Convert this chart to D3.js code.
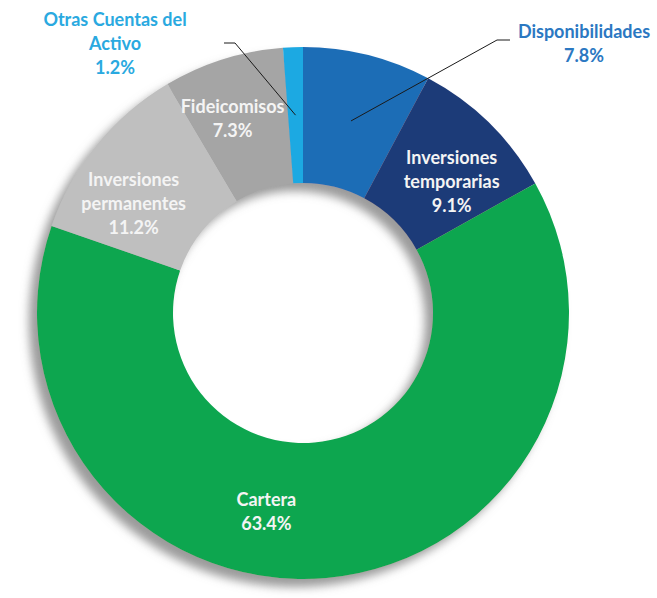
<!DOCTYPE html>
<html>
<head>
<meta charset="utf-8">
<script src="https://cdn.jsdelivr.net/npm/d3@7"></script>
<style>
  body { margin: 0; background: #fff; }
  svg { display: block; }
  text { font-family: Lato, "Open Sans", sans-serif; font-weight: bold; font-size: 18px; }
</style>
</head>
<body>
<svg id="chart" width="657" height="598"></svg>
<script>
// data
var categories = ["Disponibilidades", "Inversiones temporarias", "Cartera", "Inversiones permanentes", "Fideicomisos", "Otras Cuentas del Activo"];
var values = [7.8, 9.1, 63.4, 11.2, 7.3, 1.2];
var labelLines = [["Disponibilidades"], ["Inversiones", "temporarias"], ["Cartera"], ["Inversiones", "permanentes"], ["Fideicomisos"], ["Otras Cuentas del", "Activo"]];

// styling / layout
var colors = ["#1f6db6", "#1f3a78", "#0aa64f", "#bfbfbf", "#a5a5a5", "#1ca9e2"];
var labelColors = ["#2b78c2", "#f4f4f4", "#f4f4f4", "#f4f4f4", "#f4f4f4", "#2aa9e0"];
var outside = [true, false, false, false, false, true];
// nudges from the label-arc centroid (px)
var nudge = [[0, 0], [10, 10], [-54, 2], [-16, 16], [-11, -5], [0, 0]];
var outsidePos = [[584, 38], null, null, null, null, [115, 26]];

var cx = 303, cy = 313, R = 266, r0 = 130;
var svg = d3.select("#chart");

var defs = svg.append("defs");
var f = defs.append("filter").attr("id", "shadow")
  .attr("x", "-20%").attr("y", "-20%").attr("width", "140%").attr("height", "140%");
f.append("feDropShadow")
  .attr("dx", -8).attr("dy", 8).attr("stdDeviation", 5)
  .attr("flood-color", "#7a7a7a").attr("flood-opacity", 0.75);

var pie = d3.pie().sort(null).value(function(d) { return d; });
var arcs = pie(values);
var arc = d3.arc().innerRadius(r0).outerRadius(R);
var labelArc = d3.arc().innerRadius(198).outerRadius(198);

var g = svg.append("g").attr("transform", "translate(" + cx + "," + cy + ")");

g.append("g").attr("filter", "url(#shadow)")
  .selectAll("path")
  .data(arcs)
  .enter().append("path")
    .attr("d", arc)
    .attr("fill", function(d, i) { return colors[i]; });

var lineH = 24;
arcs.forEach(function(d, i) {
  var lines = labelLines[i].concat([d3.format(".1f")(values[i]) + "%"]);
  var x, y;
  if (outside[i]) {
    x = outsidePos[i][0] - cx;
    y = outsidePos[i][1] - cy;
  } else {
    var c = labelArc.centroid(d);
    x = c[0] + nudge[i][0];
    y = c[1] + nudge[i][1] - (lines.length - 1) * lineH / 2 + 6;
  }
  var t = g.append("text")
    .attr("text-anchor", "middle")
    .attr("fill", labelColors[i]);
  lines.forEach(function(s, k) {
    t.append("tspan").attr("x", x).attr("y", y + k * lineH).text(s);
  });
});

// leader lines for the outside labels
var leaders = [
  { i: 0, elbow: [497, 40], end: [510, 40] },
  { i: 5, elbow: [235, 43], end: [224, 43] }
];
leaders.forEach(function(L) {
  var p0 = labelArc.centroid(arcs[L.i]);
  g.append("path")
    .attr("d", d3.line()([p0, [L.elbow[0] - cx, L.elbow[1] - cy], [L.end[0] - cx, L.end[1] - cy]]))
    .attr("fill", "none")
    .attr("stroke", "#1a1a1a")
    .attr("stroke-width", 1);
});
</script>
</body>
</html>
